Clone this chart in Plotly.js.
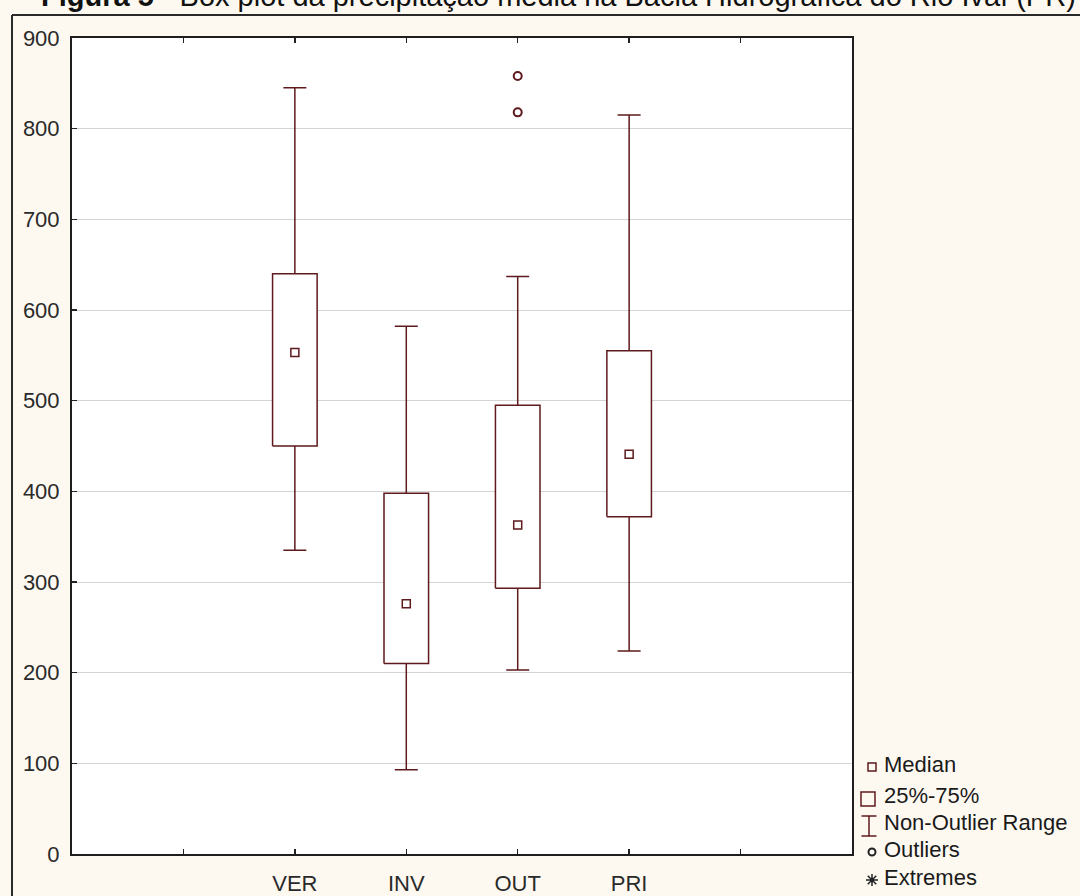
<!DOCTYPE html>
<html>
<head>
<meta charset="utf-8">
<script src="https://cdn.plot.ly/plotly-3.0.1.min.js"></script>
<style>html,body{margin:0;padding:0;background:#fdf9f1;}#chart{width:1080px;height:896px;}</style>
</head>
<body>
<div id="chart"></div>
<script>
// ---- data ----
const categories = ['VER', 'INV', 'OUT', 'PRI'];
const catPositions = [2, 3, 4, 5];
const lowerWhisker = [335, 93, 203, 224];
const q1 = [450, 210, 293, 372];
const median = [553, 276, 363, 441];
const q3 = [640, 398, 495, 555];
const upperWhisker = [845, 582, 637, 815];
const outlierCategory = ['OUT', 'OUT'];
const outlierValues = [858, 818];
const tickPositions = [1, 2, 3, 4, 5, 6];
const tickLabels = ['', 'VER', 'INV', 'OUT', 'PRI', ''];
const legendLabels = ['Median', '25%-75%', 'Non-Outlier Range', 'Outliers', 'Extremes'];
const titleText = '<b>Figura 5</b> - Box plot da precipitação média na Bacia Hidrográfica do Rio Ivaí (PR)';

// ---- styles ----
const LINE = '#5e1a1c';
const HALF = 0.2;
const FONT = 'Liberation Sans, Arial, sans-serif';

// whiskers (error bars around the median, hidden marker)
const whisker = {
  type: 'scatter', mode: 'markers', x: catPositions, y: median,
  marker: {size: 1, opacity: 0},
  error_y: {type: 'data', symmetric: false,
    array: upperWhisker.map((v, i) => v - median[i]),
    arrayminus: median.map((v, i) => v - lowerWhisker[i]),
    color: LINE, thickness: 1.5, width: 11.5},
  xaxis: 'x', yaxis: 'y', showlegend: false, hoverinfo: 'skip'
};

// boxes
const bx = [], by = [];
catPositions.forEach((c, i) => {
  bx.push(c - HALF, c + HALF, c + HALF, c - HALF, c - HALF, null);
  by.push(q1[i], q1[i], q3[i], q3[i], q1[i], null);
});
const boxes = {
  type: 'scatter', mode: 'lines', x: bx, y: by, fill: 'toself', fillcolor: '#ffffff',
  line: {color: LINE, width: 1.5}, xaxis: 'x', yaxis: 'y', showlegend: false, hoverinfo: 'skip'
};

const medians = {
  type: 'scatter', mode: 'markers', x: catPositions, y: median,
  marker: {symbol: 'square-open', size: 8, color: LINE, line: {width: 1.5, color: LINE}},
  xaxis: 'x', yaxis: 'y', showlegend: false, hoverinfo: 'skip'
};

const outliers = {
  type: 'scatter', mode: 'markers',
  x: outlierCategory.map(c => catPositions[categories.indexOf(c)]), y: outlierValues,
  marker: {symbol: 'circle-open', size: 8, color: LINE, line: {width: 2, color: LINE}},
  xaxis: 'x', yaxis: 'y', showlegend: false, hoverinfo: 'skip'
};

// ---- custom legend drawn on a helper subplot (pixel-like coordinates) ----
const legRowY = [767, 798, 825, 852, 880];
const legSymX = 872;
const legTextX = 884;
const legMedian = {type: 'scatter', mode: 'markers', x: [legSymX], y: [legRowY[0]],
  marker: {symbol: 'square-open', size: 8, color: LINE, line: {width: 1.5, color: LINE}},
  xaxis: 'x2', yaxis: 'y2', showlegend: false, hoverinfo: 'skip'};
const legBox = {type: 'scatter', mode: 'markers', x: [legSymX - 4], y: [legRowY[1] + 1],
  marker: {symbol: 'square-open', size: 14, color: LINE, line: {width: 1.5, color: LINE}},
  xaxis: 'x2', yaxis: 'y2', showlegend: false, hoverinfo: 'skip'};
const legRange = {type: 'scatter', mode: 'markers', x: [legSymX - 3], y: [legRowY[2] + 1],
  marker: {size: 1, opacity: 0},
  error_y: {type: 'constant', value: 10, color: LINE, thickness: 1.5, width: 7.5},
  xaxis: 'x2', yaxis: 'y2', showlegend: false, hoverinfo: 'skip'};
const legOut = {type: 'scatter', mode: 'markers', x: [legSymX], y: [legRowY[3]],
  marker: {symbol: 'circle-open', size: 7, color: '#222', line: {width: 2, color: '#222'}},
  xaxis: 'x2', yaxis: 'y2', showlegend: false, hoverinfo: 'skip'};
const legExt = {type: 'scatter', mode: 'markers', x: [legSymX], y: [legRowY[4]],
  marker: {symbol: 'asterisk-open', size: 10, color: '#222', line: {width: 1.5, color: '#222'}},
  xaxis: 'x2', yaxis: 'y2', showlegend: false, hoverinfo: 'skip'};
const legText = {type: 'scatter', mode: 'text', x: legendLabels.map(() => legTextX), y: legRowY,
  text: legendLabels, textposition: 'middle right',
  textfont: {family: FONT, size: 22, color: '#1a1a1a'},
  xaxis: 'x2', yaxis: 'y2', showlegend: false, hoverinfo: 'skip'};

const W = 1080, H = 896, ML = 72, MT = 38;
const PW = W - ML, PH = H - MT;
const plotRight = 852, plotBottom = 854;
const px = v => (v - ML) / PW;
const py = v => (H - v) / PH;

const layout = {
  width: W, height: H,
  margin: {l: ML, r: 0, t: MT, b: 0, pad: 0},
  paper_bgcolor: '#fdf9f1', plot_bgcolor: 'rgba(0,0,0,0)',
  showlegend: false,
  xaxis: {domain: [0, px(plotRight)], range: [0, 7], tickmode: 'array', tickvals: tickPositions, ticktext: tickLabels,
    ticks: 'inside', ticklen: 5, tickwidth: 1.5, tickcolor: '#222', showgrid: false, zeroline: false,
    showline: true, linecolor: '#1e1e1e', linewidth: 2, mirror: 'ticks',
    tickfont: {family: FONT, size: 22, color: '#2a2a2a'}, ticklabelstandoff: 9, fixedrange: true},
  yaxis: {domain: [py(plotBottom), 1], range: [0, 900], dtick: 100, tick0: 0,
    ticks: 'inside', ticklen: 5, tickwidth: 1.5, tickcolor: '#222',
    showgrid: true, gridcolor: '#d4d4d4', gridwidth: 1, zeroline: false,
    showline: true, linecolor: '#1e1e1e', linewidth: 2, mirror: true,
    tickfont: {family: FONT, size: 22, color: '#2a2a2a'}, ticklabelstandoff: 6, fixedrange: true},
  xaxis2: {domain: [0.78, 1], range: [ML + 0.78 * PW, W], visible: false, fixedrange: true},
  yaxis2: {domain: [0, 0.2], range: [H, H - 0.2 * PH], visible: false, fixedrange: true},
  shapes: [
    {type: 'rect', xref: 'x domain', yref: 'y domain', x0: 0, x1: 1, y0: 0, y1: 1, layer: 'below',
     fillcolor: '#ffffff', line: {width: 0}},
    {type: 'line', xref: 'paper', yref: 'paper', x0: px(12), x1: px(12), y0: py(15), y1: -0.05, line: {color: '#2a2a2a', width: 2}},
    {type: 'line', xref: 'paper', yref: 'paper', x0: px(12), x1: 1.05, y0: py(15), y1: py(15), line: {color: '#2a2a2a', width: 2}}
  ],
  annotations: [
    {text: titleText, xref: 'paper', yref: 'paper', x: px(40), y: py(13), xanchor: 'left', yanchor: 'bottom',
     showarrow: false, borderpad: 0, font: {family: FONT, size: 29, color: '#111'}}
  ]
};

Plotly.newPlot('chart', [whisker, boxes, medians, outliers, legMedian, legBox, legRange, legOut, legExt, legText], layout, {staticPlot: true});
</script>
</body>
</html>
